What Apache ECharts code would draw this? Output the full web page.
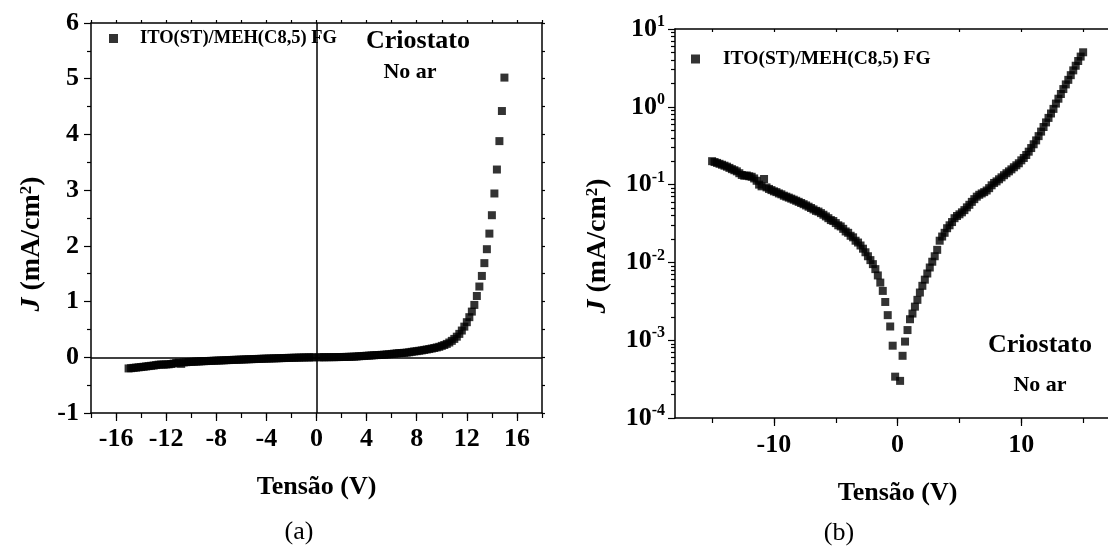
<!DOCTYPE html>
<html>
<head>
<meta charset="utf-8">
<script src="https://cdn.jsdelivr.net/npm/echarts@6/dist/echarts.min.js"></script>
<style>
  html, body { margin: 0; padding: 0; background: #fff; }
  #chart { width: 1108px; height: 546px; }
</style>
</head>
<body>
<div id="chart"></div>
<script>
/* Measured J-V curve, ITO(ST)/MEH(C8,5) FG, cryostat, in air */
var seriesName = 'ITO(ST)/MEH(C8,5) FG';

var voltage = [
  -15.0, -14.8, -14.6, -14.4, -14.2, -14.0, -13.8, -13.6, -13.4, -13.2,
  -13.0, -12.8, -12.6, -12.4, -12.2, -12.0, -11.8, -11.6, -11.4, -11.2,
  -11.0, -10.8, -10.6, -10.4, -10.2, -10.0, -9.8, -9.6, -9.4, -9.2,
  -9.0, -8.8, -8.6, -8.4, -8.2, -8.0, -7.8, -7.6, -7.4, -7.2,
  -7.0, -6.8, -6.6, -6.4, -6.2, -6.0, -5.8, -5.6, -5.4, -5.2,
  -5.0, -4.8, -4.6, -4.4, -4.2, -4.0, -3.8, -3.6, -3.4, -3.2,
  -3.0, -2.8, -2.6, -2.4, -2.2, -2.0, -1.8, -1.6, -1.4, -1.2,
  -1.0, -0.8, -0.6, -0.4, -0.2,
  0.2, 0.4, 0.6, 0.8, 1.0,
  1.2, 1.4, 1.6, 1.8, 2.0, 2.2, 2.4, 2.6, 2.8, 3.0,
  3.2, 3.4, 3.6, 3.8, 4.0, 4.2, 4.4, 4.6, 4.8, 5.0,
  5.2, 5.4, 5.6, 5.8, 6.0, 6.2, 6.4, 6.6, 6.8, 7.0,
  7.2, 7.4, 7.6, 7.8, 8.0, 8.2, 8.4, 8.6, 8.8, 9.0,
  9.2, 9.4, 9.6, 9.8, 10.0, 10.2, 10.4, 10.6, 10.8, 11.0,
  11.2, 11.4, 11.6, 11.8, 12.0, 12.2, 12.4, 12.6, 12.8, 13.0,
  13.2, 13.4, 13.6, 13.8, 14.0, 14.2, 14.4, 14.6, 14.8, 15.0
];

// J in mA/cm2 (signed)
var currentDensity = [
  -0.200, -0.195, -0.190, -0.185, -0.180, -0.175, -0.170, -0.164, -0.158, -0.153,
  -0.148, -0.140, -0.133, -0.130, -0.131, -0.128, -0.126, -0.120, -0.112, -0.100,
  -0.095, -0.118, -0.092, -0.088, -0.085, -0.082, -0.080, -0.077, -0.075, -0.072,
  -0.070, -0.068, -0.066, -0.064, -0.062, -0.060, -0.058, -0.056, -0.054, -0.052,
  -0.050, -0.048, -0.046, -0.045, -0.043, -0.041, -0.039, -0.037, -0.035, -0.034,
  -0.032, -0.030, -0.029, -0.027, -0.025, -0.024, -0.022, -0.021, -0.019, -0.018,
  -0.0165, -0.0150, -0.0135, -0.0120, -0.0107, -0.0095, -0.0082, -0.0068, -0.0055, -0.0043,
  -0.0031, -0.0021, -0.0015, -0.00085, -0.00034,
  0.00030, 0.00063, 0.00096, 0.00135, 0.00186,
  0.0022, 0.0027, 0.0033, 0.0041, 0.0050, 0.0060, 0.0072, 0.0086, 0.0102, 0.0120,
  0.0145, 0.0190, 0.0215, 0.0240, 0.0275, 0.0300, 0.0330, 0.0370, 0.0395, 0.0415,
  0.0440, 0.0470, 0.0510, 0.0550, 0.0600, 0.0650, 0.0700, 0.0740, 0.0770, 0.0800,
  0.0840, 0.0900, 0.0980, 0.1050, 0.1100, 0.1170, 0.1240, 0.1320, 0.1400, 0.1480,
  0.1570, 0.1670, 0.1770, 0.1880, 0.2050, 0.2200, 0.2400, 0.2650, 0.2950, 0.3300,
  0.3700, 0.4200, 0.4800, 0.5500, 0.6300, 0.7200, 0.8200, 0.9400, 1.1000, 1.2700,
  1.4600, 1.6900, 1.9400, 2.2200, 2.5500, 2.9400, 3.3700, 3.8800, 4.4200, 5.0200
];

var serif = '"Liberation Serif", "Times New Roman", serif';
var black = '#000';

var linData = voltage.map(function (v, i) { return [v, currentDensity[i]]; });
var logData = voltage.map(function (v, i) { return [v, Math.abs(currentDensity[i])]; });

var tickFont = { fontFamily: serif, fontWeight: 'bold', fontSize: 26, color: black };
var nameFont = { fontFamily: serif, fontWeight: 'bold', fontSize: 26, color: black };
var nameRich = {
  i: { fontFamily: serif, fontWeight: 'bold', fontStyle: 'italic', fontSize: 28, fill: black },
  n: { fontFamily: serif, fontWeight: 'bold', fontSize: 28, fill: black },
  s: { fontFamily: serif, fontWeight: 'bold', fontSize: 17, fill: black, verticalAlign: 'top', lineHeight: 17 }
};
var yName = '{i|J}{n| (mA/cm}{s|2}{n|)}';

function plainLine(show) {
  return { show: show, onZero: false, lineStyle: { color: black, width: 1.5 } };
}
function tick(len, inside) {
  return { show: true, length: len, inside: !!inside, lineStyle: { color: black, width: 1.2 } };
}
function noTick() { return { show: false }; }
function hideAxis(grid) {
  return { type: 'value', gridIndex: grid, show: false, min: 0, max: 1 };
}
function label(x, y, text, font, rotate) {
  return {
    type: 'text', x: x, y: y, rotation: rotate ? Math.PI / 2 : 0,
    style: { text: text, font: font, fill: black, align: 'center', verticalAlign: 'middle', rich: nameRich }
  };
}

var chart = echarts.init(document.getElementById('chart'));

var option = {
  animation: false,
  backgroundColor: '#fff',
  grid: [
    { left: 91, top: 23, width: 451, height: 390 },        // (a) data box
    { left: 116.06, top: 23, width: 400.9, height: 390 },  // (a) labelled ticks
    { left: 675, top: 29, width: 433, height: 389 },       // (b) data box, cut by the page edge
    { left: 712.1, top: 29, width: 371.05, height: 389 },  // (b) minor ticks
    { left: 773.9, top: 29, width: 247.4, height: 389 }    // (b) labelled ticks
  ],
  legend: [
    {
      data: [seriesName], left: 109, top: 29, padding: 0,
      icon: 'rect', itemWidth: 9, itemHeight: 9,
      textStyle: { fontFamily: serif, fontWeight: 'bold', fontSize: 18.5, color: black, padding: [0, 0, 0, 17] }
    },
    {
      data: [seriesName], left: 691, top: 49, padding: 0,
      icon: 'rect', itemWidth: 9, itemHeight: 9,
      textStyle: { fontFamily: serif, fontWeight: 'bold', fontSize: 19.5, color: black, padding: [0, 0, 0, 18] }
    }
  ],
  xAxis: [
    { type: 'value', gridIndex: 0, position: 'bottom', min: -18, max: 18, interval: 2,
      axisLine: plainLine(true), axisTick: tick(5), axisLabel: { show: false }, splitLine: { show: false } },
    { type: 'value', gridIndex: 0, position: 'top', min: -18, max: 18, interval: 2,
      axisLine: plainLine(true), axisTick: tick(3), axisLabel: { show: false }, splitLine: { show: false } },
    { type: 'value', gridIndex: 1, position: 'bottom', min: -16, max: 16, interval: 4,
      axisLine: plainLine(false), axisTick: tick(8),
      axisLabel: Object.assign({ margin: 13 }, tickFont), splitLine: { show: false },
      name: 'Tensão (V)', nameLocation: 'middle', nameGap: 61, nameTextStyle: nameFont },
    { type: 'value', gridIndex: 2, position: 'bottom', min: -18, max: 17.01,
      axisLine: plainLine(true), axisTick: noTick(), axisLabel: { show: false }, splitLine: { show: false } },
    { type: 'value', gridIndex: 2, position: 'top', min: -18, max: 17.01,
      axisLine: plainLine(true), axisTick: noTick(), axisLabel: { show: false }, splitLine: { show: false } },
    { type: 'value', gridIndex: 3, position: 'bottom', min: -15, max: 15, interval: 5,
      axisLine: plainLine(false), axisTick: tick(5), axisLabel: { show: false }, splitLine: { show: false } },
    { type: 'value', gridIndex: 3, position: 'top', min: -15, max: 15, interval: 5,
      axisLine: plainLine(false), axisTick: tick(3, true), axisLabel: { show: false }, splitLine: { show: false } },
    { type: 'value', gridIndex: 4, position: 'bottom', min: -10, max: 10, interval: 10,
      axisLine: plainLine(false), axisTick: tick(8),
      axisLabel: Object.assign({ margin: 14 }, tickFont), splitLine: { show: false },
      name: 'Tensão (V)', nameLocation: 'middle', nameGap: 62, nameTextStyle: nameFont }
  ],
  yAxis: [
    { type: 'value', gridIndex: 0, position: 'left', min: -1, max: 6, interval: 1,
      axisLine: plainLine(true), axisTick: tick(7),
      minorTick: { show: true, splitNumber: 2, length: 4, lineStyle: { color: black, width: 1.2 } },
      axisLabel: Object.assign({ margin: 12 }, tickFont), splitLine: { show: false }, minorSplitLine: { show: false } },
    { type: 'value', gridIndex: 0, position: 'right', min: -1, max: 6, interval: 1,
      axisLine: plainLine(true), axisTick: tick(3),
      minorTick: { show: true, splitNumber: 2, length: 3, lineStyle: { color: black, width: 1.2 } },
      axisLabel: { show: false }, splitLine: { show: false } },
    hideAxis(1),
    { type: 'log', logBase: 10, gridIndex: 2, position: 'left', min: 0.0001, max: 10,
      axisLine: plainLine(true), axisTick: tick(7),
      minorTick: { show: true, splitNumber: 9, length: 4, lineStyle: { color: black, width: 1.2 } },
      axisLabel: {
        margin: 10,
        formatter: function (v) { return '{b|10}{s|' + Math.round(Math.log10(v)) + '}'; },
        rich: {
          b: { fontFamily: serif, fontWeight: 'bold', fontSize: 26, color: black, lineHeight: 30 },
          s: { fontFamily: serif, fontWeight: 'bold', fontSize: 16, color: black, verticalAlign: 'top', lineHeight: 16 }
        }
      },
      splitLine: { show: false }, minorSplitLine: { show: false } },
    hideAxis(3),
    hideAxis(4)
  ],
  series: [
    {
      name: seriesName, type: 'scatter', xAxisIndex: 0, yAxisIndex: 0,
      symbol: 'rect', symbolSize: 8, itemStyle: { color: black },
      data: linData,
      markLine: {
        silent: true, symbol: 'none', label: { show: false },
        lineStyle: { color: black, width: 1.5, type: 'solid' },
        data: [{ xAxis: 0 }, { yAxis: 0 }]
      }
    },
    {
      name: seriesName, type: 'scatter', xAxisIndex: 3, yAxisIndex: 3,
      symbol: 'rect', symbolSize: 8, itemStyle: { color: black },
      data: logData
    }
  ],
  graphic: [
    label(32, 244, yName, 'bold 28px ' + serif, true),
    label(598, 246, yName, 'bold 28px ' + serif, true),
    label(418, 41, 'Criostato', 'bold 26px ' + serif),
    label(410, 72, 'No ar', 'bold 22px ' + serif),
    label(1040, 345, 'Criostato', 'bold 26px ' + serif),
    label(1040, 385, 'No ar', 'bold 22px ' + serif),
    label(299, 532, '(a)', '26px ' + serif),
    label(839, 533, '(b)', '26px ' + serif)
  ]
};

chart.setOption(option);
</script>
</body>
</html>
